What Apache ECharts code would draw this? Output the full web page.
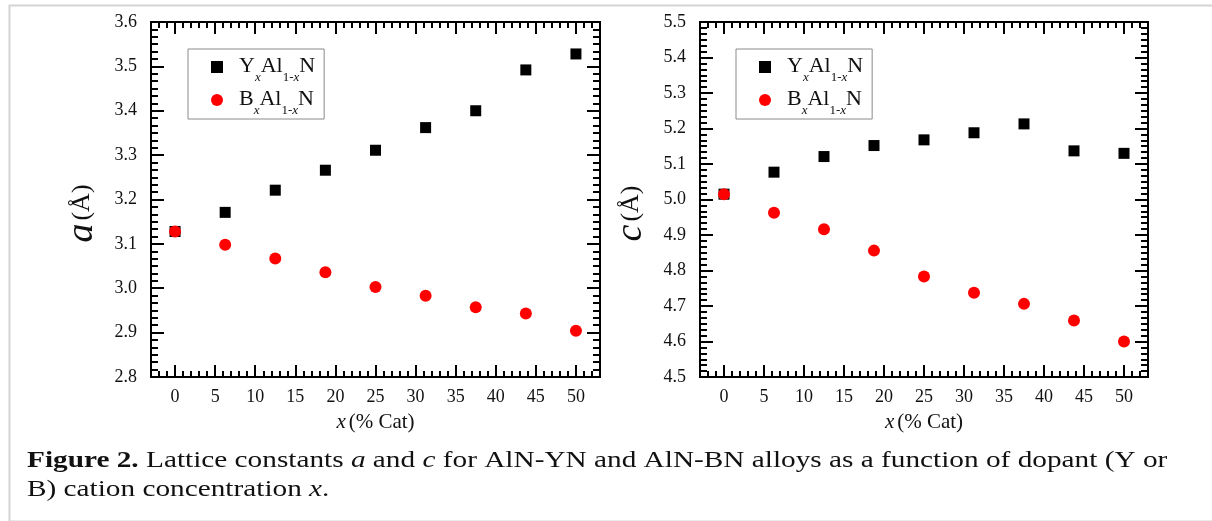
<!DOCTYPE html>
<html>
<head>
<meta charset="utf-8">
<script src="https://cdn.jsdelivr.net/npm/echarts@6/dist/echarts.min.js"></script>
<style>
html,body{margin:0;padding:0;background:#fff;}
#chart{width:1212px;height:521px;}
</style>
</head>
<body>
<div id="chart"></div>
<script>
// ---- data ----
const xVals = [0, 6.25, 12.5, 18.75, 25, 31.25, 37.5, 43.75, 50];
const aY = [3.128, 3.171, 3.221, 3.266, 3.311, 3.362, 3.400, 3.492, 3.528];
const aB = [3.128, 3.098, 3.067, 3.036, 3.003, 2.983, 2.957, 2.943, 2.904];
const cY = [5.015, 5.077, 5.121, 5.152, 5.168, 5.188, 5.213, 5.137, 5.130];
const cB = [5.015, 4.963, 4.916, 4.856, 4.783, 4.737, 4.706, 4.659, 4.600];
const xMajorTicks = [0, 5, 10, 15, 20, 25, 30, 35, 40, 45, 50];
const xMinorTicks = [-2, -1, 1, 2, 3, 4, 6, 7, 8, 9, 11, 12, 13, 14, 16, 17, 18, 19, 21, 22, 23, 24,
  26, 27, 28, 29, 31, 32, 33, 34, 36, 37, 38, 39, 41, 42, 43, 44, 46, 47, 48, 49, 51, 52];
const xRange = [-3, 53];
const aRange = [2.8, 3.6];
const cRange = [4.5, 5.5];
const yStep = 0.1;
const seriesNames = ['YxAl1-xN', 'BxAl1-xN'];
const legendLabels = {
  'YxAl1-xN': '{g|}{m|Y}{si|x}{m|Al}{s|1-}{si|x}{m|N}',
  'BxAl1-xN': '{g|}{m|B}{si|x}{m|Al}{s|1-}{si|x}{m|N}'
};
const captionLine1 = '{b|Figure 2.} Lattice constants {i|a} and {i|c} for AlN-YN and AlN-BN alloys as a function of dopant (Y or';
const captionLine2 = 'B) cation concentration {i|x}.';

const SERIF = '"Liberation Serif", "DejaVu Serif", serif';
const chart = echarts.init(document.getElementById('chart'), null, {renderer: 'canvas'});

const grids = [
  {left: 151, top: 22, width: 449, height: 355, outerBoundsMode: 'none'},
  {left: 700, top: 22, width: 448, height: 355, outerBoundsMode: 'none'}
];

function xAxisDef(gi, pos, ticks, len, labels, name) {
  return {
    type: 'value', gridIndex: gi, position: pos, min: xRange[0], max: xRange[1],
    axisLine: {show: true, onZero: false, lineStyle: {color: '#000', width: 2}},
    axisTick: {show: true, inside: true, length: len, customValues: ticks, lineStyle: {color: '#000', width: 2}},
    axisLabel: labels ? {show: true, customValues: ticks, margin: 11, color: '#111', fontSize: 18, fontFamily: SERIF} : {show: false},
    splitLine: {show: false},
    name: name || '',
    nameLocation: 'middle',
    nameGap: 35,
    nameMoveOverlap: false,
    nameTextStyle: {
      fontFamily: SERIF, color: '#111',
      rich: {i: {fontFamily: SERIF, fontStyle: 'italic', fontSize: 21, color: '#111'},
             n: {fontFamily: SERIF, fontSize: 21, color: '#111'}}
    }
  };
}

function yAxisDef(gi, pos, range, labels, name) {
  return {
    type: 'value', gridIndex: gi, position: pos, min: range[0], max: range[1], interval: yStep,
    axisLine: {show: true, onZero: false, lineStyle: {color: '#000', width: 2}},
    axisTick: {show: true, inside: true, length: 13, lineStyle: {color: '#000', width: 2}},
    minorTick: {show: true, splitNumber: 6, length: 7, lineStyle: {color: '#000', width: 2}},
    axisLabel: labels ? {show: true, margin: 14, color: '#111', fontSize: 18, fontFamily: SERIF,
      formatter: v => v.toFixed(1)} : {show: false},
    splitLine: {show: false},
    minorSplitLine: {show: false},
    name: name || '',
    nameLocation: 'middle',
    nameGap: 50,
    nameMoveOverlap: false,
    nameTextStyle: {
      fontFamily: SERIF, color: '#111',
      padding: [0, 28, 0, 0],
      rich: {i: {fontFamily: SERIF, fontStyle: 'italic', fontSize: 38, color: '#111'},
             n: {fontFamily: SERIF, fontSize: 26, color: '#111'}}
    }
  };
}

const xAxes = [];
const yAxes = [];
[0, 1].forEach(gi => {
  xAxes.push(xAxisDef(gi, 'bottom', xMajorTicks, 12, true, '{i|x} {n|(% Cat)}'));
  xAxes.push(xAxisDef(gi, 'bottom', xMinorTicks, 6, false));
  xAxes.push(xAxisDef(gi, 'top', xMajorTicks, 12, false));
  xAxes.push(xAxisDef(gi, 'top', xMinorTicks, 6, false));
  yAxes.push(yAxisDef(gi, 'left', gi === 0 ? aRange : cRange, true, gi === 0 ? '{i|a} {n|(Å)}' : '{i|c} {n|(Å)}'));
  yAxes.push(yAxisDef(gi, 'right', gi === 0 ? aRange : cRange, false));
});

function pairs(xs, ys) { return xs.map((x, i) => [x, ys[i]]); }

function sq(gi, ys) {
  return {name: seriesNames[0], type: 'scatter', xAxisIndex: gi * 4, yAxisIndex: gi * 2,
    symbol: 'rect', symbolSize: 11, itemStyle: {color: '#000', opacity: 1}, data: pairs(xVals, ys), z: 2};
}
function ci(gi, ys) {
  return {name: seriesNames[1], type: 'scatter', xAxisIndex: gi * 4, yAxisIndex: gi * 2,
    symbol: 'circle', symbolSize: 12, itemStyle: {color: '#ff0000', opacity: 1}, data: pairs(xVals, ys), z: 3};
}

function legendDef(left) {
  return {
    left: left, top: 49, orient: 'vertical',
    data: seriesNames,
    itemWidth: 12, itemHeight: 12, itemGap: 4,
    padding: [6, 9, 2, 23],
    borderColor: '#8a8a8a', borderWidth: 1, backgroundColor: '#fff',
    selectedMode: false,
    itemStyle: {opacity: 1},
    formatter: n => legendLabels[n],
    textStyle: {
      color: '#111', fontFamily: SERIF,
      rich: {
        g: {width: 11},
        m: {fontFamily: SERIF, fontSize: 22, lineHeight: 24, verticalAlign: 'top', color: '#111'},
        s: {fontFamily: SERIF, fontSize: 13, lineHeight: 13, padding: [16, 0, 0, 0], verticalAlign: 'top', color: '#111'},
        si: {fontFamily: SERIF, fontStyle: 'italic', fontSize: 13, lineHeight: 13, padding: [16, 0, 0, 0], verticalAlign: 'top', color: '#111'}
      }
    }
  };
}

const option = {
  backgroundColor: '#fff',
  animation: false,
  grid: grids,
  xAxis: xAxes,
  yAxis: yAxes,
  legend: [legendDef(188), legendDef(736)],
  series: [sq(0, aY), ci(0, aB), sq(1, cY), ci(1, cB)],
  graphic: [
    {type: 'rect', left: 7, top: 3, shape: {x: 0, y: 0, width: 1220, height: 516},
     style: {fill: 'none', stroke: '#d4d4d4', lineWidth: 2}, silent: true, z: -10},
    {type: 'text', x: 27, y: 449, scaleX: 1.22,
     style: {text: captionLine1,
       fontFamily: SERIF, fontSize: 24, fill: '#111',
       rich: {b: {fontFamily: SERIF, fontWeight: 'bold', fontSize: 24, fill: '#111'},
              i: {fontFamily: SERIF, fontStyle: 'italic', fontSize: 24, fill: '#111'}}}},
    {type: 'text', x: 27, y: 478, scaleX: 1.22,
     style: {text: captionLine2,
       fontFamily: SERIF, fontSize: 24, fill: '#111',
       rich: {i: {fontFamily: SERIF, fontStyle: 'italic', fontSize: 24, fill: '#111'}}}}
  ]
};
chart.setOption(option);
</script>
</body>
</html>
